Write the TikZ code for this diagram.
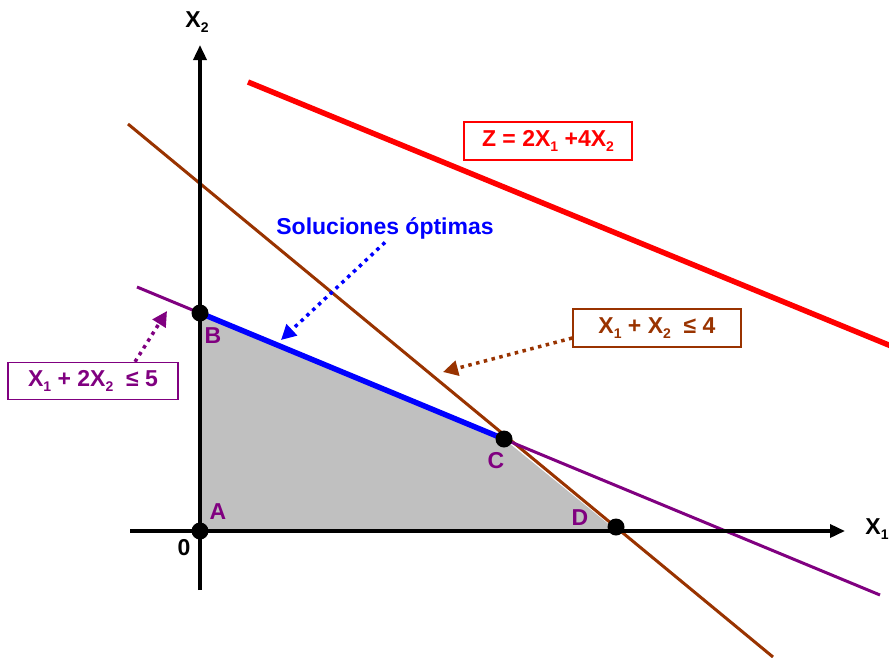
\documentclass[tikz,border=0pt]{standalone}
\usepackage{fontspec}
\setmainfont{Liberation Sans}
\usetikzlibrary{arrows.meta,calc}
\definecolor{zred}{RGB}{255,0,0}
\definecolor{cbrown}{RGB}{153,51,0}
\definecolor{cpurple}{RGB}{128,0,128}
\definecolor{optblue}{RGB}{0,0,255}
\definecolor{region}{RGB}{192,192,192}
\newcommand{\xv}[1]{X\raisebox{-0.45ex}{\fontsize{14}{14}\selectfont #1}}
\begin{document}
\begin{tikzpicture}[
  x=1pt,y=-1pt,
  font=\fontsize{23}{25}\selectfont\bfseries,
  axis/.style={line width=3.5pt,-{Triangle[length=15pt,width=13pt]}},
  vertex/.style={circle,fill=black,inner sep=0pt,minimum size=17pt},
  vlabel/.style={text=cpurple,inner sep=0pt},
  cbox/.style={draw,line width=1.4pt,minimum width=168pt,minimum height=38pt,inner sep=2pt},
  dotarr/.style={line width=3.5pt,dash pattern=on 3.5pt off 4.5pt,-{Triangle[length=15pt,width=15pt]}},
]
\useasboundingbox (0,0) rectangle (889,657);
% ---------- feasible region ----------
\coordinate (A) at (200,531);
\coordinate (B) at (200,313);
\coordinate (C) at (504,439);
\coordinate (D) at (617,531);
\fill[region] (A) -- (B) -- (C) -- (D) -- cycle;

% ---------- lines ----------
\coordinate (z1) at (248,82);   \coordinate (z2) at (896,348);
\coordinate (r1) at (128,124);  \coordinate (r2) at (773,657);
\coordinate (s1) at (137,287);  \coordinate (s2) at (880,595);
\draw[zred,line width=5.5pt] (z1) -- (z2);
\draw[cbrown,line width=3pt] (r1) -- (r2);
\draw[cpurple,line width=3pt] (s1) -- (s2);

% ---------- axes ----------
\coordinate (xs) at (130,531);  \coordinate (xe) at (845,531);
\coordinate (ys) at (200,590);  \coordinate (ye) at (200,45);
\draw[axis] (xs) -- (xe);
\draw[axis] (ys) -- (ye);
\node (lx1) at (877,529) {\xv{1}};
\node (lx2) at (197,22) {\xv{2}};
\node (lzero) at (184,548) {0};

% ---------- optimal edge and vertices ----------
\draw[optblue,line width=5.5pt] (B) -- (C);
\foreach \p/\q in {A/A,B/B,C/C,D/{616,527}}
  \node[vertex] (v\p) at (\q) {};
\node[vlabel] (la) at (218,512) {A};
\node[vlabel] (lb) at (213,336) {B};
\node[vlabel] (lc) at (496,461) {C};
\node[vlabel] (ld) at (580,518) {D};

% ---------- labels ----------
\node[cbox,draw=zred,text=zred] (lz) at (548,141) {Z = 2\xv{1} +4\xv{2}};
\node[cbox,draw=cbrown,text=cbrown] (l4) at (657,328) {\xv{1} + \xv{2} \ ≤ 4};
\node[cbox,draw=cpurple,text=cpurple,minimum width=170pt,minimum height=37pt] (l5) at (93,381) {\xv{1} + 2\xv{2} \ ≤ 5};
\node[text=optblue] (lsol) at (385,228) {Soluciones óptimas};

\coordinate (tsol) at (281,340);
\coordinate (t4) at (443,372);
\coordinate (t5) at (167,311);
\draw[dotarr,optblue] (lsol.south) -- (tsol);
\draw[dotarr,cbrown] ([yshift=-10pt]l4.west) -- (t4);
\draw[dotarr,cpurple] ([xshift=42pt]l5.north) -- (t5);
\end{tikzpicture}
\end{document}
